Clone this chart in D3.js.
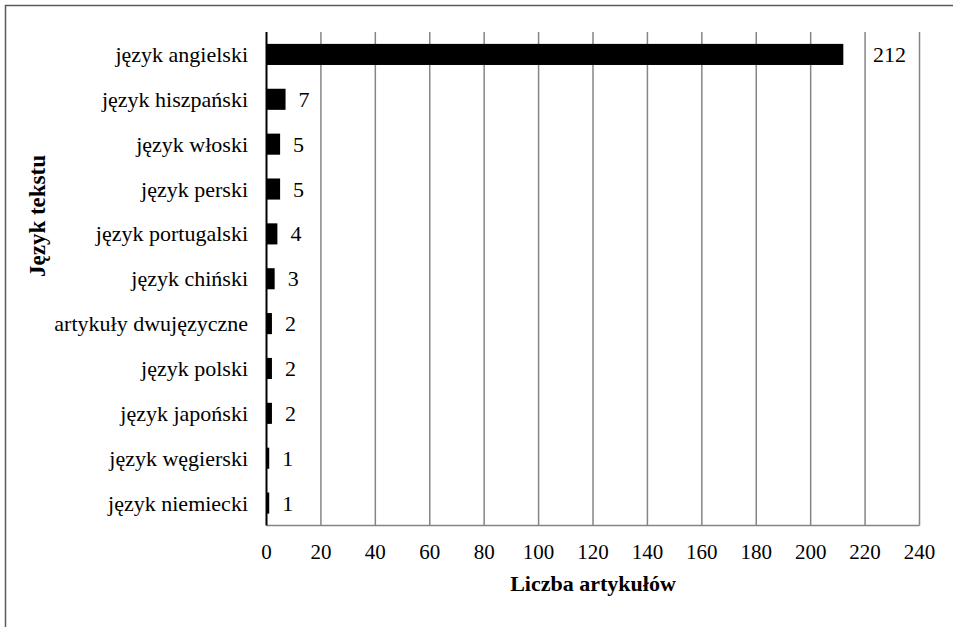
<!DOCTYPE html>
<html>
<head>
<meta charset="utf-8">
<script src="https://cdn.jsdelivr.net/npm/d3@7"></script>
<style>
  html, body { margin: 0; padding: 0; background: #fff; }
  svg { display: block; }
</style>
</head>
<body>
<script>
const categories = [
  "język angielski", "język hiszpański", "język włoski", "język perski",
  "język portugalski", "język chiński", "artykuły dwujęzyczne",
  "język polski", "język japoński", "język węgierski", "język niemiecki"
];
const values = [212, 7, 5, 5, 4, 3, 2, 2, 2, 1, 1];
const xTicks = [0, 20, 40, 60, 80, 100, 120, 140, 160, 180, 200, 220, 240];
const xTitle = "Liczba artykułów";
const yTitle = "Język tekstu";

const W = 953, H = 627;
const m = { left: 266.5, right: 953 - 919.5, top: 32, bottom: 627 - 525.5 };
const FONT = "'Liberation Serif', 'Times New Roman', Tinos, 'DejaVu Serif', serif";

const svg = d3.select("body").append("svg").attr("width", W).attr("height", H)
  .style("font-family", FONT);

svg.append("rect")
  .attr("x", 5.5).attr("y", 5.5).attr("width", W + 20).attr("height", H + 20)
  .attr("fill", "none").attr("stroke", "#5a5a5a").attr("stroke-width", 1.5);

const x = d3.scaleLinear().domain([0, 240]).range([m.left, W - m.right]);
const y = d3.scaleBand().domain(categories).range([m.top, H - m.bottom]).paddingInner(0.53).paddingOuter(0.265);

// gridlines
svg.append("g").selectAll("line").data(xTicks.filter(t => t > 0)).join("line")
  .attr("x1", d => x(d)).attr("x2", d => x(d))
  .attr("y1", m.top).attr("y2", H - m.bottom)
  .attr("stroke", "#858585").attr("stroke-width", 1.5);

// bottom axis line
svg.append("line")
  .attr("x1", x(0)).attr("x2", x(240))
  .attr("y1", H - m.bottom).attr("y2", H - m.bottom)
  .attr("stroke", "#858585").attr("stroke-width", 1.5);

// bars
svg.append("g").selectAll("rect").data(values).join("rect")
  .attr("x", x(0))
  .attr("y", (d, i) => y(categories[i]))
  .attr("width", d => x(d) - x(0))
  .attr("height", y.bandwidth())
  .attr("fill", "#000");

// y axis line
svg.append("line")
  .attr("x1", x(0)).attr("x2", x(0))
  .attr("y1", m.top).attr("y2", H - m.bottom)
  .attr("stroke", "#000").attr("stroke-width", 2);

// x tick labels
svg.append("g").selectAll("text").data(xTicks).join("text")
  .attr("x", d => x(d)).attr("y", 559)
  .attr("text-anchor", "middle").attr("font-size", 21)
  .attr("font-family", FONT)
  .text(d => d);

// category labels
svg.append("g").selectAll("text").data(categories).join("text")
  .attr("x", 248).attr("y", d => y(d) + y.bandwidth() / 2 + 7.5)
  .attr("text-anchor", "end").attr("font-size", 22)
  .attr("font-family", FONT)
  .text(d => d);

// value labels (shifted past a gridline if they would overlap one)
const grid = xTicks.map(t => x(t));
svg.append("g").selectAll("text").data(values).join("text")
  .attr("x", d => {
    let sx = x(d) + 13;
    const w = String(d).length * 11;
    const hit = grid.find(g => g > x(0) + 1 && g >= sx - 2 && g <= sx + w + 2);
    if (hit !== undefined) sx = hit + 8;
    return sx;
  })
  .attr("y", (d, i) => y(categories[i]) + y.bandwidth() / 2 + 7.5)
  .attr("font-size", 22)
  .attr("font-family", FONT)
  .text(d => d);

// axis titles
svg.append("text")
  .attr("x", (x(0) + x(240)) / 2).attr("y", 591)
  .attr("text-anchor", "middle").attr("font-size", 22).attr("font-weight", "bold")
  .attr("font-family", FONT)
  .text(xTitle);

svg.append("text")
  .attr("transform", "translate(45,216) rotate(-90)")
  .attr("text-anchor", "middle").attr("font-size", 23).attr("font-weight", "bold")
  .attr("font-family", FONT)
  .text(yTitle);
</script>
</body>
</html>
